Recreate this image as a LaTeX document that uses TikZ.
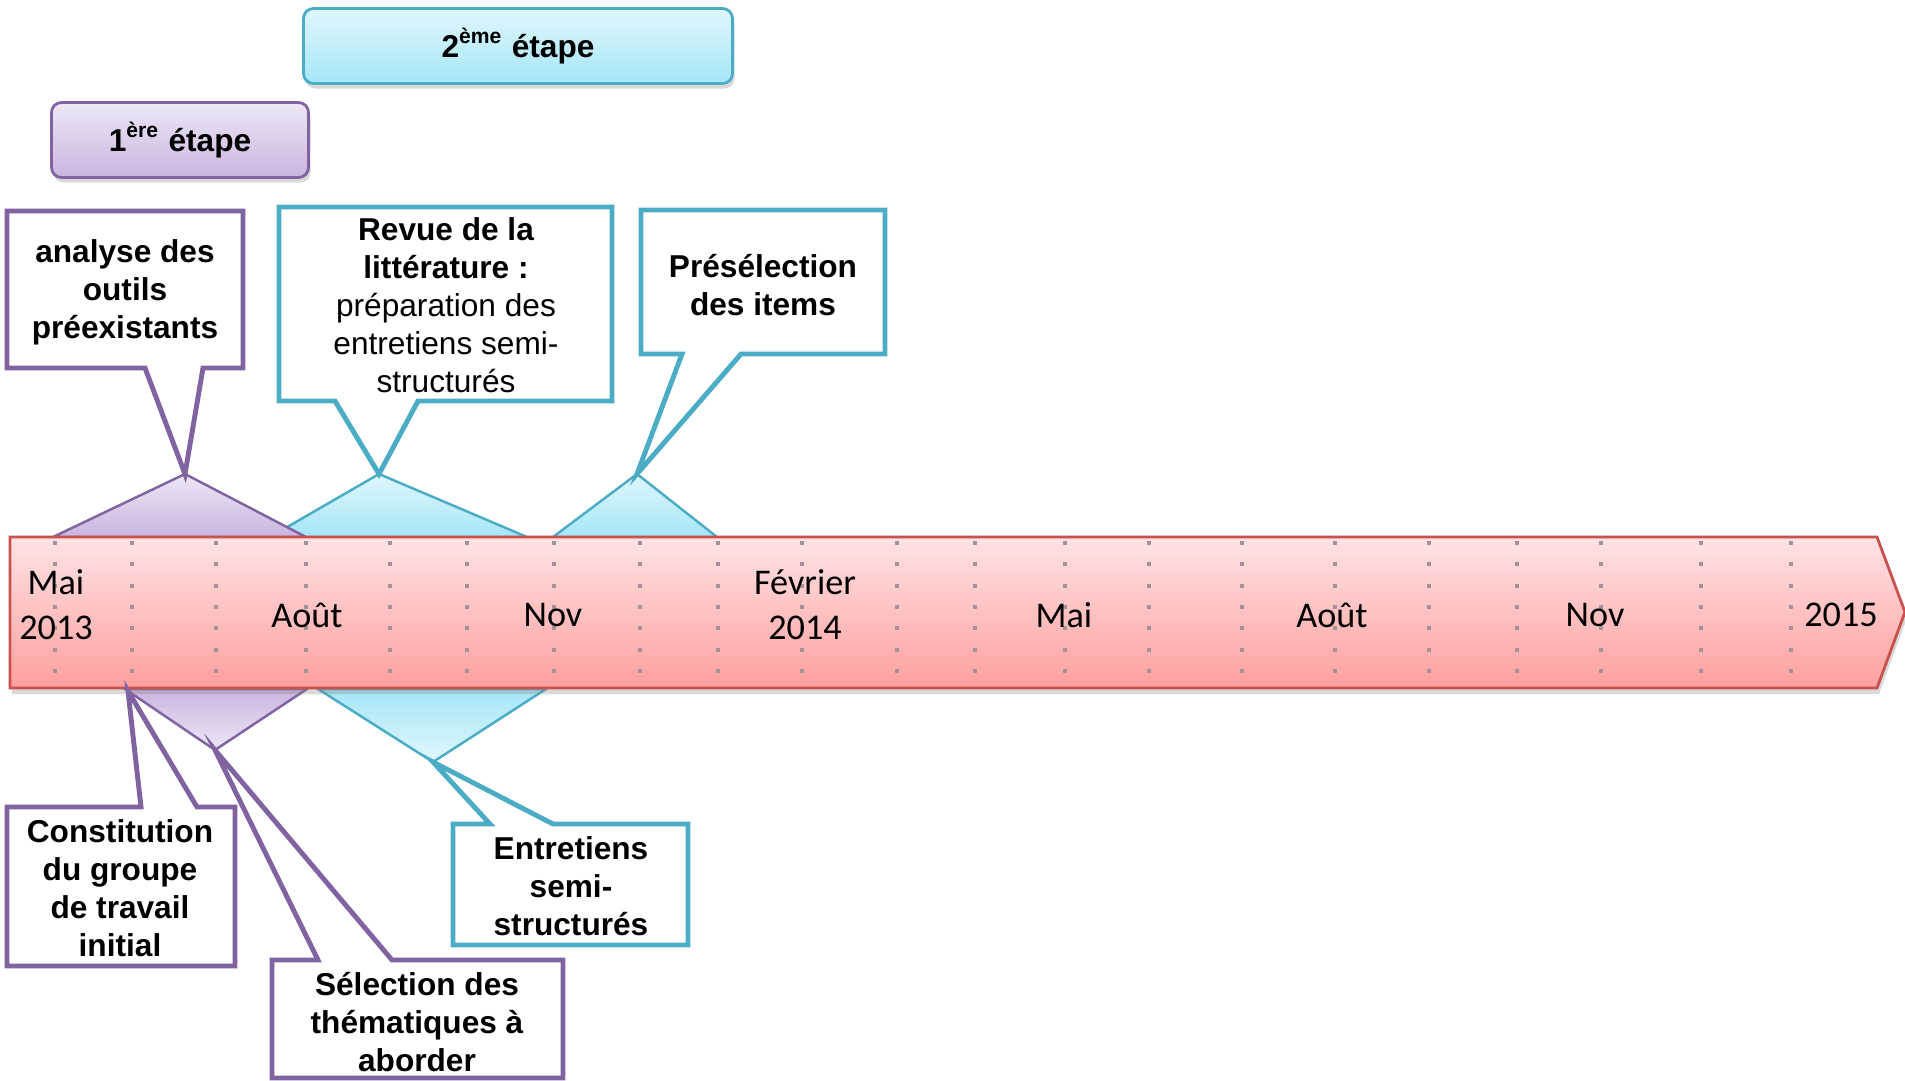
\documentclass[tikz,border=0pt]{standalone}
\usepackage{fontspec}
\setmainfont{Liberation Sans}
\newfontfamily\monthfont{Carlito}
\usetikzlibrary{shadows}

\definecolor{purpleline}{HTML}{8064A2}
\definecolor{purpletop}{HTML}{EEE7F6}
\definecolor{purplebot}{HTML}{CAB4E0}
\definecolor{cyanline}{HTML}{4BACC6}
\definecolor{cyantop}{HTML}{E0F7FD}
\definecolor{cyanbot}{HTML}{A5E6F8}
\definecolor{bandline}{HTML}{C9514E}
\definecolor{bandtop}{HTML}{FFE3E4}
\definecolor{bandbot}{HTML}{FE9F9E}
\definecolor{dotgray}{HTML}{A39396}

\begin{document}
\begin{tikzpicture}[x=0.1mm, y=-0.1mm,
    every node/.style={font=\fontsize{9}{10.8}\selectfont, align=center},
    month/.style={font=\monthfont\fontsize{10.3}{12.8}\selectfont},
    bubble/.style={line width=1.4pt, fill=white, line join=miter},
    uptri/.style={line width=0.7pt, line join=miter},
    monthtick/.style={dotgray, line width=0.4mm, dash pattern=on 0.4mm off 1.73mm},
    stage/.style={rounded corners=1mm, line width=0.8pt, minimum height=7.5mm,
        font=\bfseries\fontsize{9}{10.8}\selectfont,
        drop shadow={shadow xshift=0.2mm, shadow yshift=-0.5mm, opacity=0.3}}]
    \useasboundingbox (0,0) rectangle (1905,1081);

    % triangle tips
    \coordinate (apexA) at (185,474);
    \coordinate (apexB) at (379,474);
    \coordinate (apexC) at (637,474);
    \coordinate (apexD) at (215,750);
    \coordinate (apexE) at (433,762);
    \coordinate (cornerF) at (128,691);

    % triangles on the time line
    \draw[uptri, draw=cyanline, top color=cyantop, bottom color=cyanbot] (270,537) -- (apexB) -- (527,537) -- cycle;
    \draw[uptri, draw=cyanline, top color=cyantop, bottom color=cyanbot] (553,537) -- (apexC) -- (717,537) -- cycle;
    \draw[uptri, draw=purpleline, top color=purpletop, bottom color=purplebot] (53,537) -- (apexA) -- (306,537) -- cycle;
    \draw[uptri, draw=purpleline, top color=purplebot, bottom color=purpletop] (125,689) -- (apexD) -- (307,689) -- cycle;
    \draw[uptri, draw=cyanline, top color=cyanbot, bottom color=cyantop] (318,689) -- (apexE) -- (546,689) -- cycle;

    % time line
    \draw[draw=bandline, line width=0.8pt, top color=bandtop, bottom color=bandbot,
        drop shadow={shadow xshift=0.2mm, shadow yshift=-0.6mm, opacity=0.3}]
        (10,537) -- (1877,537) -- (1905,612) -- (1877,688) -- (10,688) -- cycle;

    \foreach \x in {55,132,216,306,390,467,554,640,718,802,897,975,1065,1149,1242,1335,1429,1517,1601,1701,1791}
        \draw[monthtick] (\x,541) -- (\x,675);

    \node[month] (mai13) at (56,605) {Mai\\2013};
    \node[month] (aout13) at (307,615) {Août};
    \node[month] (nov13) at (553,615) {Nov};
    \node[month] (fev14) at (805,605) {Février\\2014};
    \node[month] (mai14) at (1064,615) {Mai};
    \node[month] (aout14) at (1332,615) {Août};
    \node[month] (nov14) at (1595,615) {Nov};
    \node[month] (an15) at (1841,615) {2015};

    % callouts above
    \draw[bubble, draw=purpleline] (7,211) -- (243,211) -- (243,368) -- (203,368) -- (apexA) -- (145,368) -- (7,368) -- cycle;
    \node (analyse) at (125,292) {\bfseries analyse des\\\bfseries outils\\\bfseries préexistants};

    \draw[bubble, draw=cyanline] (279,207) -- (612,207) -- (612,401) -- (418,401) -- (apexB) -- (335,401) -- (279,401) -- cycle;
    \node (revue) at (446,305) {\bfseries Revue de la\\\bfseries littérature :\\préparation des\\entretiens semi-\\structurés};

    \draw[bubble, draw=cyanline] (641,210) -- (885,210) -- (885,354) -- (741,354) -- (apexC) -- (682,354) -- (641,354) -- cycle;
    \node (preselection) at (763,285) {\bfseries Présélection\\\bfseries des items};

    % callouts below
    \draw[bubble, draw=purpleline] (7,807) -- (141,807) -- (cornerF) -- (197,807) -- (235,807) -- (235,966) -- (7,966) -- cycle;
    \node (constitution) at (120,888) {\bfseries Constitution\\\bfseries du groupe\\\bfseries de travail\\\bfseries initial};

    \draw[bubble, draw=purpleline] (272,960) -- (318,960) -- (apexD) -- (392,960) -- (563,960) -- (563,1078) -- (272,1078) -- cycle;
    \node (selection) at (417,1022) {\bfseries Sélection des\\\bfseries thématiques à\\\bfseries aborder};

    \draw[bubble, draw=cyanline] (453,824) -- (490,824) -- (apexE) -- (553,824) -- (688,824) -- (688,945) -- (453,945) -- cycle;
    \node (entretiens) at (571,886) {\bfseries Entretiens\\\bfseries semi-\\\bfseries structurés};

    % stages
    \node[stage, draw=cyanline, top color=cyantop, bottom color=cyanbot, minimum width=42.9mm] (etape2) at (518,46) {2\textsuperscript{ème} étape};
    \node[stage, draw=purpleline, top color=purpletop, bottom color=purplebot, minimum width=25.7mm] (etape1) at (180,140) {1\textsuperscript{ère} étape};
\end{tikzpicture}
\end{document}
